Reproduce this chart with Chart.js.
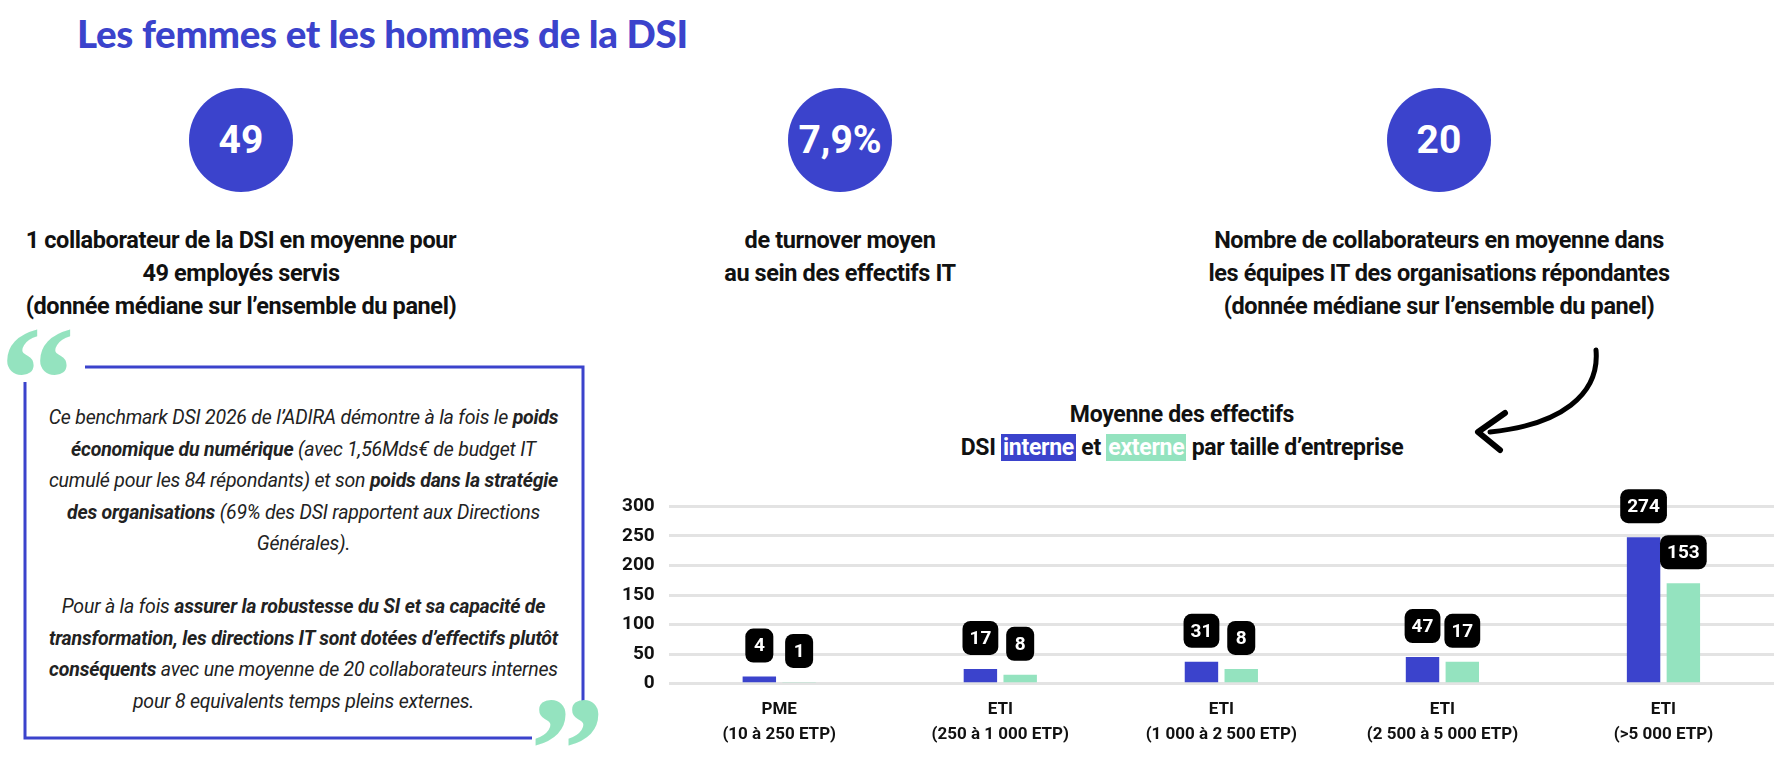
<!DOCTYPE html>
<html>
<head>
<meta charset="utf-8">
<script src="https://cdn.jsdelivr.net/npm/chart.js@4"></script>
<style>
  body { margin: 0; width: 1774px; height: 772px; background: #fff; font-family: Roboto, sans-serif; position: relative; overflow: hidden; }
  .abs { position: absolute; }
  h1 { position: absolute; left: 77px; top: 10px; margin: 0; font: 900 38.5px Lato, sans-serif; color: #3b43cc; letter-spacing: -0.3px; }
  .circle { position: absolute; width: 104px; height: 104px; border-radius: 50%; background: #3b43cc; color: #fff; font: 700 39px Roboto, sans-serif; display: flex; align-items: center; justify-content: center; }
  .stat { position: absolute; width: 640px; text-align: center; font: 700 23.5px/33px Roboto, sans-serif; color: #111; letter-spacing: -0.4px; }
  .quote { position: absolute; left: 40px; top: 402px; width: 527px; text-align: center; font: italic 19.5px/31.5px Roboto, sans-serif; color: #222; letter-spacing: -0.2px; }
  .quote b { font-weight: 700; }
  .ctitle { position: absolute; left: 882px; width: 600px; text-align: center; font: 700 23px/33px Roboto, sans-serif; color: #111; top: 398px; letter-spacing: -0.3px; }
  .hl-b { background: #3b43cc; color: #fff; padding: 0 2px; }
  .hl-g { background: #94e3bf; color: #fff; padding: 0 2px; }
  #wrap { position: absolute; left: 608px; top: 481px; width: 1166px; height: 272px; }
</style>
</head>
<body>
<h1>Les femmes et les hommes de la DSI</h1>

<div class="circle" style="left:189px; top:88px;">49</div>
<div class="circle" style="left:788px; top:88px;">7,9%</div>
<div class="circle" style="left:1387px; top:88px;">20</div>

<div class="stat" style="left:-79px; top:224px;">1 collaborateur de la DSI en moyenne pour<br>49 employés servis<br>(donnée médiane sur l’ensemble du panel)</div>
<div class="stat" style="left:520px; top:224px;">de turnover moyen<br>au sein des effectifs IT</div>
<div class="stat" style="left:1119px; top:224px;">Nombre de collaborateurs en moyenne dans<br>les équipes IT des organisations répondantes<br>(donnée médiane sur l’ensemble du panel)</div>

<svg class="abs" style="left:0; top:0;" width="1774" height="772">
  <path d="M85 367 H583 V702" fill="none" stroke="#3b43cc" stroke-width="3"/>
  <path d="M25 382 V738 H532" fill="none" stroke="#3b43cc" stroke-width="3"/>
  <text x="0" y="430" font-family="Georgia, serif" font-size="150" font-weight="700" fill="#94e3bf">“</text>
  <text x="530" y="800" font-family="Georgia, serif" font-size="150" font-weight="700" fill="#94e3bf">”</text>
  <path d="M1596 350 C1600 395 1560 425 1490 432" fill="none" stroke="#000" stroke-width="5" stroke-linecap="round"/>
  <path d="M1505 413 L1478 432 L1500 450" fill="none" stroke="#000" stroke-width="6" stroke-linecap="round" stroke-linejoin="round"/>
</svg>

<div class="quote">Ce benchmark DSI 2026 de l’ADIRA démontre à la fois le <b>poids économique du numérique</b> (avec 1,56Mds€ de budget IT cumulé pour les 84 répondants) et son <b>poids dans la stratégie des organisations</b> (69% des DSI rapportent aux Directions Générales).<br><br>Pour à la fois <b>assurer la robustesse du SI et sa capacité de transformation, les directions IT sont dotées d’effectifs plutôt conséquents</b> avec une moyenne de 20 collaborateurs internes pour 8 equivalents temps pleins externes.</div>

<div class="ctitle">Moyenne des effectifs<br>DSI <span class="hl-b">interne</span> et <span class="hl-g">externe</span> par taille d’entreprise</div>

<div id="wrap"><canvas id="chart"></canvas></div>

<script>
const categories = [['PME', '(10 à 250 ETP)'], ['ETI', '(250 à 1 000 ETP)'], ['ETI', '(1 000 à 2 500 ETP)'], ['ETI', '(2 500 à 5 000 ETP)'], ['ETI', '(>5 000 ETP)']];
// bar heights as drawn in the picture
const interneBars = [12, 25, 37, 45, 248];
const externeBars = [3, 15, 25, 37, 170];
// values printed in the labels
const interneLabels = ['4', '17', '31', '47', '274'];
const externeLabels = ['1', '8', '8', '17', '153'];
const yTicks = [0, 50, 100, 150, 200, 250, 300];

const labelBoxes = {
  id: 'labelBoxes',
  afterDatasetsDraw(chart) {
    const ctx = chart.ctx;
    const sets = [interneLabels, externeLabels];
    ctx.save();
    ctx.font = '700 19px Roboto, sans-serif';
    ctx.textAlign = 'center';
    ctx.textBaseline = 'middle';
    sets.forEach((labels, di) => {
      chart.getDatasetMeta(di).data.forEach((bar, i) => {
        const text = labels[i];
        const w = Math.max(ctx.measureText(text).width + 14, 28);
        const h = 34;
        const cy = bar.y - 31;
        ctx.fillStyle = '#000';
        ctx.beginPath();
        ctx.roundRect(bar.x - w / 2, cy - h / 2, w, h, 8);
        ctx.fill();
        ctx.fillStyle = '#fff';
        ctx.fillText(text, bar.x, cy + 1);
      });
    });
    ctx.restore();
  }
};

new Chart(document.getElementById('chart'), {
  type: 'bar',
  data: {
    labels: categories,
    datasets: [
      { label: 'interne', data: interneBars, backgroundColor: '#3b43cc', barPercentage: 0.84, categoryPercentage: 0.36 },
      { label: 'externe', data: externeBars, backgroundColor: '#94e3bf', barPercentage: 0.84, categoryPercentage: 0.36 }
    ]
  },
  options: {
    responsive: true,
    maintainAspectRatio: false,
    animation: false,
    layout: { padding: { top: 17, right: 0 } },
    plugins: { legend: { display: false }, tooltip: { enabled: false } },
    scales: {
      y: {
        min: 0, max: 300,
        afterBuildTicks: axis => { axis.ticks = yTicks.map(v => ({ value: v })); },
        grid: { color: '#e3e3e3', lineWidth: 3, drawTicks: false },
        border: { display: false },
        ticks: { color: '#111', padding: 14, font: { family: 'Roboto', size: 19, weight: '700' } }
      },
      x: {
        grid: { display: false },
        border: { display: false },
        ticks: { color: '#111', padding: 6, font: { family: 'Roboto', size: 17, weight: '700', lineHeight: 1.45 } }
      }
    }
  },
  plugins: [labelBoxes]
});
</script>
</body>
</html>
